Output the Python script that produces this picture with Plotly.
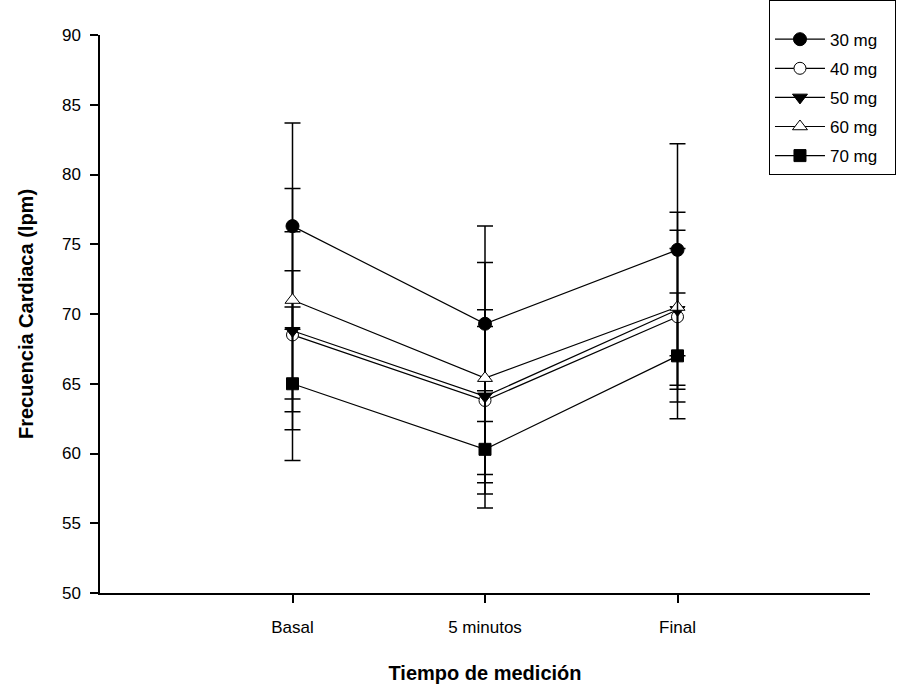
import plotly.graph_objects as go

categories = ["Basal", "5 minutos", "Final"]
series_names = ["30 mg", "40 mg", "50 mg", "60 mg", "70 mg"]
mean_30 = [76.3, 69.3, 74.6]
sd_30 = [7.4, 7.0, 7.6]
mean_40 = [68.5, 63.8, 69.8]
sd_40 = [4.6, 5.3, 4.9]
mean_50 = [68.8, 64.1, 70.3]
sd_50 = [7.1, 6.2, 5.7]
mean_60 = [71.0, 65.4, 70.5]
sd_60 = [8.0, 8.3, 6.8]
mean_70 = [65.0, 60.3, 67.0]
sd_70 = [5.5, 4.2, 4.5]

means = [mean_30, mean_40, mean_50, mean_60, mean_70]
sds = [sd_30, sd_40, sd_50, sd_60, sd_70]
symbols = ["circle", "circle", "triangle-down", "triangle-up", "square"]
fills = ["black", "white", "black", "white", "black"]
sizes = [13, 12, 13, 13, 12]

fig = go.Figure()
for name, m, s, sym, fc, sz in zip(series_names, means, sds, symbols, fills, sizes):
    fig.add_trace(go.Scatter(
        x=categories, y=m, name=name, mode="lines+markers", legendgroup=name,
        line=dict(color="black", width=1.2),
        marker=dict(symbol=sym, size=sz, color=fc, line=dict(color="black", width=1)),
        error_y=dict(type="data", array=s, visible=True, color="black", thickness=1.5, width=8),
    ))

font = "Liberation Sans, Arial, sans-serif"
fig.update_layout(
    width=916, height=689,
    margin=dict(l=100, r=46, t=35, b=96, autoexpand=False),
    paper_bgcolor="white", plot_bgcolor="white",
    font=dict(family=font, size=17, color="black"),
    showlegend=True,
    legend=dict(x=0.8688, y=1.063,
                xanchor="left", yanchor="top", tracegroupgap=4, itemwidth=50,
                title=dict(text="\u00a0" * 27, font=dict(size=16)),
                bordercolor="black", borderwidth=1, bgcolor="white",
                font=dict(size=17, family=font)),
    xaxis=dict(
        type="category", range=[-1, 3], automargin=False,
        showline=True, linecolor="black", linewidth=1.5,
        ticks="outside", ticklen=8, tickcolor="black", tickwidth=1.5,
        ticklabelstandoff=10,
        tickfont=dict(size=17, family=font),
        showgrid=False, zeroline=False,
        title=dict(text="<b>Tiempo de medición</b>", font=dict(size=20, family=font), standoff=30),
    ),
    yaxis=dict(
        range=[50, 90], tickvals=[50, 55, 60, 65, 70, 75, 80, 85, 90], automargin=False,
        showline=True, linecolor="black", linewidth=1.5,
        ticks="outside", ticklen=8, tickcolor="black", tickwidth=1.5,
        ticklabelstandoff=6,
        tickfont=dict(size=17, family=font),
        showgrid=False, zeroline=False,
        title=dict(text="<b>Frecuencia Cardiaca (lpm)</b>", font=dict(size=20, family=font), standoff=23),
    ),
)

fig.write_html("out.html", config={"displayModeBar": False},
               post_script="document.body.style.margin='0';")
